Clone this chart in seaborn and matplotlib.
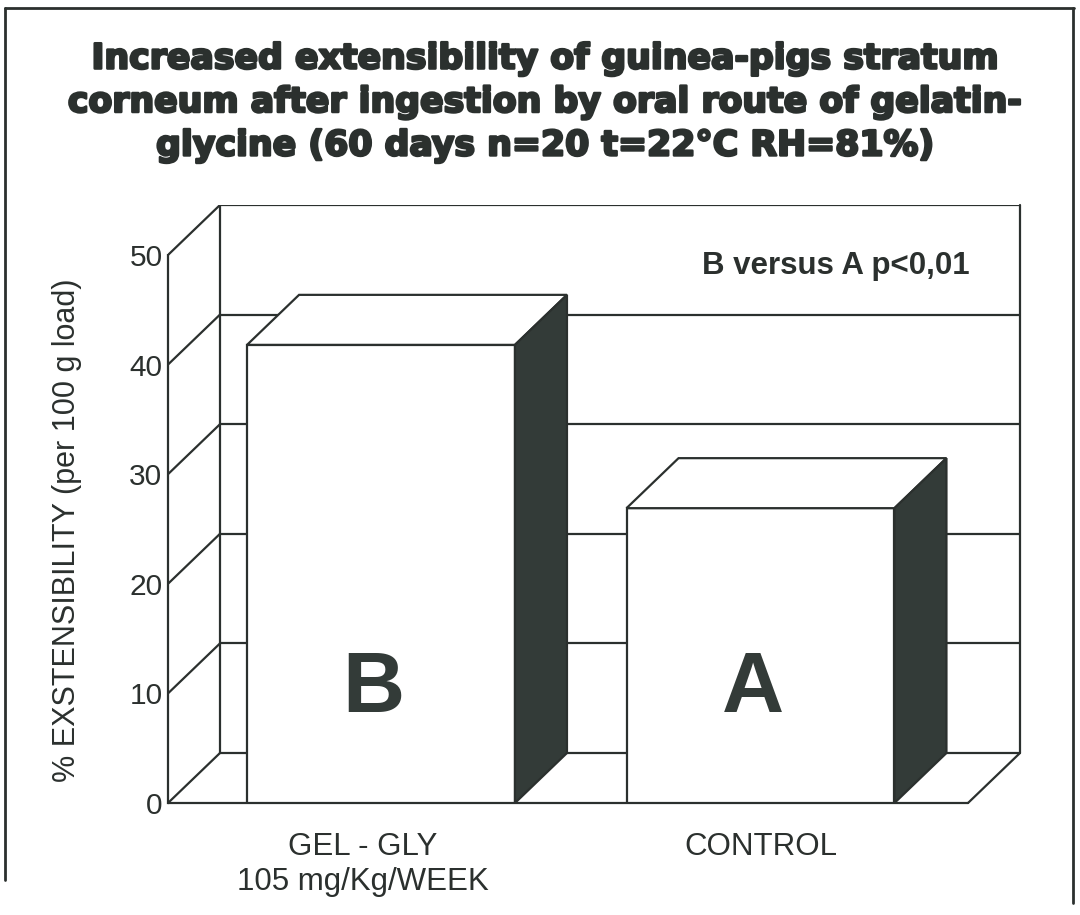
import numpy as np
import pandas as pd
import matplotlib
matplotlib.use("Agg")
import matplotlib.pyplot as plt
from matplotlib.patches import Polygon
from matplotlib.lines import Line2D
from matplotlib.transforms import ScaledTranslation
import matplotlib.patheffects as pe
import seaborn as sns

# data
groups = ["GEL - GLY\n105 mg/Kg/WEEK", "CONTROL"]
letters = ["B", "A"]
extensibility = [41.8, 26.9]
y_ticks = [0, 10, 20, 30, 40, 50]
y_minor = [5, 15, 25, 35, 45]

title = ("Increased extensibility of guinea-pigs stratum\n"
         "corneum after ingestion by oral route of gelatin-\n"
         "glycine (60 days n=20 t=22\u00b0C RH=81%)")
note = "B versus A p<0,01"
ylab = "% EXSTENSIBILITY (per 100 g load)"

ink = "#2b302e"
dark = "#333b38"

sns.set_style("white")
plt.rcParams["font.family"] = ["Liberation Sans", "DejaVu Sans"]

df = pd.DataFrame({"group": groups, "value": extensibility})

fig = plt.figure(figsize=(10.8, 9.15), dpi=100)
W, H = 1080, 915
ax = fig.add_axes([168 / W, (H - 803) / H, (1020 - 168) / W, (803 - 205) / H])

sns.barplot(data=df, x="group", y="value", color="white", width=0.706,
            edgecolor=ink, linewidth=1.6, saturation=1, ax=ax, zorder=3)

# axis limits chosen so the depth offset fits inside the axes
x0, x1 = -0.5613, 1.6838
ax.set_xlim(x0, x1)
ax.set_ylim(0, 54.56)
dx, dy = 52 / 379.5, 50 / 10.96

lw = 1.6
# back wall, left wall diagonals and floor
for v in y_ticks:
    ax.plot([x0, x0 + dx], [v, v + dy], color=ink, lw=lw, zorder=1)
    ax.plot([x0 + dx, x1], [v + dy, v + dy], color=ink, lw=lw, zorder=1)
ax.plot([x0 + dx, x0 + dx], [dy, 50 + dy], color=ink, lw=lw, zorder=1)
ax.plot([x1, x1], [dy, 50 + dy], color=ink, lw=lw, zorder=1, clip_on=False)
ax.plot([x0, x1 - dx], [0, 0], color=ink, lw=lw, zorder=1, clip_on=False)
ax.plot([x1 - dx, x1], [0, dy], color=ink, lw=lw, zorder=1, clip_on=False)

# 3D faces on each bar
for bar, letter in zip(ax.patches, letters):
    bx, bw, bh = bar.get_x(), bar.get_width(), bar.get_height()
    top = Polygon([[bx, bh], [bx + bw, bh], [bx + bw + dx, bh + dy], [bx + dx, bh + dy]],
                  closed=True, facecolor="white", edgecolor=ink, lw=lw, zorder=4)
    side = Polygon([[bx + bw, 0], [bx + bw, bh], [bx + bw + dx, bh + dy], [bx + bw + dx, dy]],
                   closed=True, facecolor=dark, edgecolor=ink, lw=lw, zorder=4)
    ax.add_patch(top)
    ax.add_patch(side)
    ax.text(bx + bw / 2 - 0.02, 10.3, letter, ha="center", va="center",
            fontsize=62, fontweight="bold", color=dark, zorder=5)

# front y axis
sns.despine(ax=ax, left=False, bottom=True, right=True, top=True)
ax.spines["left"].set_bounds(0, 50)
ax.spines["left"].set_color(ink)
ax.spines["left"].set_linewidth(lw)
ax.spines["left"].set_zorder(2)
ax.set_yticks(y_ticks)
ax.set_yticks(y_minor, minor=True)
ax.tick_params(axis="y", which="major", direction="in", length=14, width=lw,
               color=ink, labelsize=21.5, labelcolor=ink, pad=4)
ax.tick_params(axis="y", which="minor", direction="in", length=7, width=lw, color=ink)
ax.tick_params(axis="x", length=0, labelsize=22.5, labelcolor=ink, pad=21)
ax.set_xlabel("")
ax.set_ylabel(ylab, fontsize=22, color=ink)
ax.yaxis.set_label_coords(-0.101, 0.4565)

# first category label sits a little left of its bar in the original
lbl = ax.get_xticklabels()[0]
lbl.set_transform(lbl.get_transform() + ScaledTranslation(-0.18, 0, fig.dpi_scale_trans))

ax.text(0.941, 0.898, note, transform=ax.transAxes, ha="right", va="center",
        fontsize=22.5, fontweight="bold", color=ink)

# heavy title: bold face thickened with a stroke of the same colour
fig.text(545 / W, 1 - 102 / H, title, ha="center", va="center", fontsize=25,
         fontweight="bold", family="DejaVu Sans", color=ink,
         linespacing=1.35,
         path_effects=[pe.withStroke(linewidth=1.8, foreground=ink)])

# outer frame
for xs, ys in [([5, 1074], [8, 8]), ([5, 5], [8, 880]), ([1073, 1073], [8, 903])]:
    fig.add_artist(Line2D([x / W for x in xs], [1 - y / H for y in ys],
                          color=ink, lw=2))

fig.savefig("out.png", dpi=100, facecolor="white")
